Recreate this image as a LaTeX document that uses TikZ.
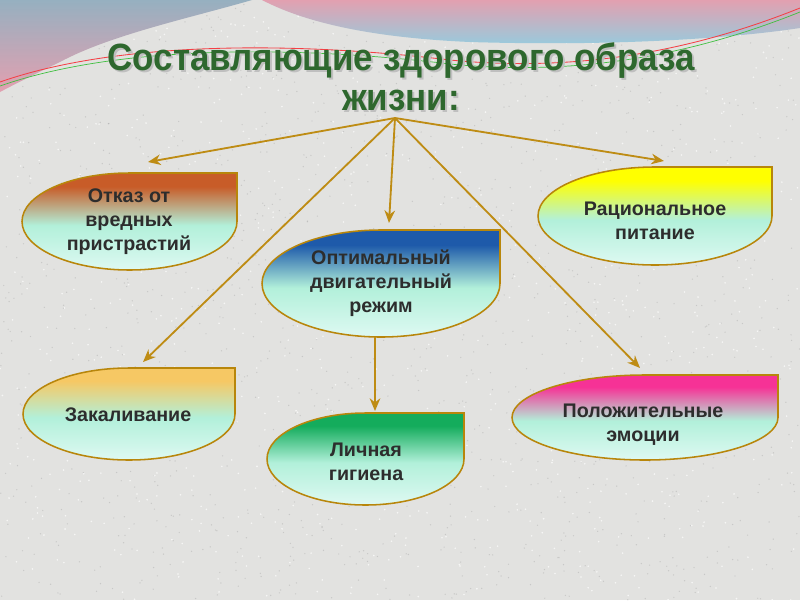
\documentclass[tikz,border=0pt]{standalone}
\usepackage{fontspec}
\setmainfont{Liberation Sans}
\newfontfamily\titlefont[FakeStretch=0.92]{Liberation Sans}
\usetikzlibrary{arrows.meta,calc}
\definecolor{bggray}{RGB}{226,226,224}
\definecolor{titlegreen}{RGB}{46,104,46}
\definecolor{leafedge}{RGB}{184,134,11}
\definecolor{arrowcol}{RGB}{190,140,20}
\definecolor{mintA}{RGB}{178,240,218}
\definecolor{mintB}{RGB}{222,249,242}
\definecolor{cOrange}{RGB}{200,92,40}
\definecolor{cBlue}{RGB}{30,90,170}
\definecolor{cYellow}{RGB}{255,255,0}
\definecolor{cGold}{RGB}{246,200,100}
\definecolor{cGreen}{RGB}{20,172,92}
\definecolor{cPink}{RGB}{246,50,150}
\definecolor{wPink}{RGB}{226,160,176}
\definecolor{wBlue}{RGB}{150,204,222}
\definecolor{wGrey}{RGB}{150,176,192}
\definecolor{txt}{RGB}{45,45,45}
\newcommand\declareleafshading[1]{%
 \pgfdeclareverticalshading{leaf#1}{100bp}{color(0bp)=(mintB); color(25bp)=(mintB); color(48bp)=(mintA); color(68bp)=(#1); color(100bp)=(#1)}%
}
\declareleafshading{cOrange}
\declareleafshading{cBlue}
\declareleafshading{cYellow}
\declareleafshading{cGold}
\declareleafshading{cGreen}
\declareleafshading{cPink}
\newcommand\drawleaf[5]{%
 \pgfmathsetmacro\lcx{(#1+#3)/2}%
 \pgfmathsetmacro\lcy{(#2+#4)/2}%
 \pgfmathsetmacro\la{(#3-#1)/2*0.5523}%
 \pgfmathsetmacro\lb{(#4-#2)/2*0.5523}%
 \shade[shading=leaf#5, draw=leafedge, line width=1.1pt]
  (\lcx,#2) -- (#3,#2) -- (#3,\lcy)
  .. controls (#3,\lcy+\lb) and (\lcx+\la,#4) .. (\lcx,#4)
  .. controls (\lcx-\la,#4) and (#1,\lcy+\lb) .. (#1,\lcy)
  .. controls (#1,\lcy-\lb) and (\lcx-\la,#2) .. (\lcx,#2) -- cycle;
}
\tikzset{
  leaftext/.style={align=center, text=txt, font=\bfseries\fontsize{14}{17}\selectfont},
  conn/.style={draw=arrowcol, line width=1.3pt, -{Stealth[length=9pt,width=7.5pt]}}
}
\begin{document}
\begin{tikzpicture}[x=0.025cm,y=-0.025cm]
\useasboundingbox (0,0) rectangle (800,600);
% background
\fill[bggray] (0,0) rectangle (800,600);
\pgfmathsetseed{7}
\foreach \i in {1,...,1400}{
  \fill[black!40, opacity=0.35] (800*rnd,600*rnd) circle (0.7);
}
\foreach \i in {1,...,900}{
  \fill[white, opacity=0.7] (800*rnd,600*rnd) circle (0.9);
}
\shade[top color=wGrey, bottom color=wPink]
  (0,0) -- (252,0) .. controls (190,18) and (110,35) .. (60,62)
  .. controls (35,74) and (15,84) .. (0,92) -- cycle;
\shade[top color=wPink, bottom color=wBlue]
  (262,0) .. controls (310,25) and (380,38) .. (470,42)
  .. controls (600,46) and (720,40) .. (800,28) -- (800,0) -- cycle;
\draw[red!60!wPink, line width=0.6pt] (0,82) .. controls (120,40) and (300,42) .. (450,60) .. controls (600,75) and (720,40) .. (800,8);
\draw[green!50!gray, line width=0.5pt] (0,86) .. controls (120,44) and (300,46) .. (450,64) .. controls (600,79) and (720,44) .. (800,12);
% title
\node[font=\titlefont\bfseries\fontsize{27}{28.5}\selectfont, text=black!25, align=center] at (403,79) {Составляющие здорового образа\\жизни:};
\node[font=\titlefont\bfseries\fontsize{27}{28.5}\selectfont, text=titlegreen, align=center] (title) at (401,77) {Составляющие здорового образа\\жизни:};
% shapes
\drawleaf{22}{173}{237}{270}{cOrange}
\drawleaf{262}{230}{500}{337}{cBlue}
\drawleaf{538}{167}{772}{265}{cYellow}
\drawleaf{23}{368}{235}{460}{cGold}
\drawleaf{267}{413}{464}{505}{cGreen}
\drawleaf{512}{375}{778}{460}{cPink}
\node[leaftext] (otkaz) at (129,222) {Отказ от\\вредных\\пристрастий};
\node[leaftext] (optim) at (381,283) {Оптимальный\\двигательный\\режим};
\node[leaftext] (racio) at (655,221) {Рациональное\\питание};
\node[leaftext] (zakal) at (128,415) {Закаливание};
\node[leaftext] (lichn) at (366,462) {Личная\\гигиена};
\node[leaftext] (polozh) at (643,425) {Положительные\\эмоции};
% connectors
\coordinate (hub) at (395,118);
\coordinate (t1) at (148,162);
\coordinate (t2) at (664,161);
\coordinate (t3) at (389,223);
\coordinate (t4) at (143,362);
\coordinate (t5) at (640,368);
\coordinate (cb) at (375,337);
\coordinate (t6) at (375,411);
\draw[conn] (hub) -- (t1);
\draw[conn] (hub) -- (t2);
\draw[conn] (hub) -- (t3);
\draw[conn] (hub) -- (t4);
\draw[conn] (hub) -- (t5);
\draw[conn] (cb) -- (t6);
\end{tikzpicture}
\end{document}
